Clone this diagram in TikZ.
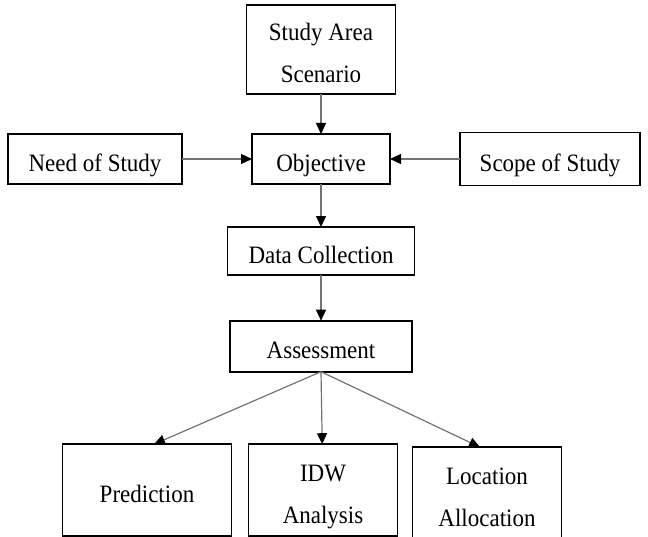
\documentclass[tikz,border=0pt]{standalone}
\usepackage{fontspec}
\setmainfont[FakeStretch=0.92]{Liberation Serif}
\usetikzlibrary{arrows.meta, positioning}
\newcommand{\droptext}{\rule{0pt}{30bp}}

\begin{document}
\begin{tikzpicture}[
    x=1bp, y=-1bp,
    box/.style={rectangle, draw, line width=1.8bp, inner sep=0pt, outer sep=0pt, align=center,
        font=\fontsize{25bp}{42bp}\selectfont, execute at begin node={\rule[-6bp]{0pt}{37bp}}},
    arrow/.style={-{Triangle[length=11bp, width=10bp, color=black]}, draw=black!55, line width=1.2bp},
]
\useasboundingbox (0,0) rectangle (648,537);

% Top part
\node[box, minimum width=138bp, minimum height=50bp] (obj) at (321,159) {Objective};
\node[box, minimum width=149bp, minimum height=89bp, above=40bp of obj] (area) {\droptext Study Area\\Scenario};
\node[box, minimum width=174bp, minimum height=50bp, left=70bp of obj] (need) {Need of Study};
\node[box, minimum width=180bp, minimum height=53bp, right=70bp of obj] (scope) {Scope of Study};

% Middle
\node[box, minimum width=187bp, minimum height=48bp, below=43bp of obj] (data) {Data Collection};
\node[box, minimum width=182bp, minimum height=51bp, below=45.7bp of data] (assess) {Assessment};

% Results
\node[box, minimum width=149bp, minimum height=92bp, below=72.5bp of assess, xshift=2bp] (idw) {\droptext IDW\\Analysis};
\node[box, minimum width=169bp, minimum height=92bp, left=17bp of idw] (pred) {Prediction};
\node[box, minimum width=149bp, minimum height=92bp, right=15bp of idw, yshift=-3bp] (loc) {\droptext Location\\Allocation};

% Arrows
\draw[arrow] (area) -- (obj);
\draw[arrow] (need) -- (obj);
\draw[arrow] (scope) -- (obj);
\draw[arrow] (obj) -- (data);
\draw[arrow] (data) -- (assess);
\draw[arrow] (assess.south) -- ([xshift=7bp]pred.north);
\draw[arrow] (assess.south) -- (idw);
\draw[arrow] (assess.south) -- ([xshift=-7bp]loc.north);

\end{tikzpicture}
\end{document}
